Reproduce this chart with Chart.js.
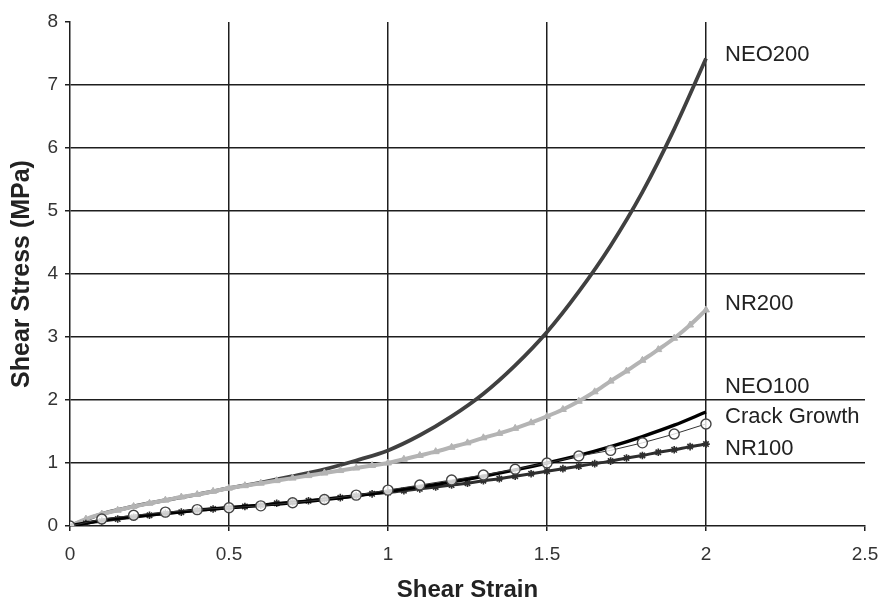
<!DOCTYPE html>
<html>
<head>
<meta charset="utf-8">
<script src="https://cdn.jsdelivr.net/npm/chart.js@4.4.1/dist/chart.umd.min.js"></script>
<style>
  html, body { margin: 0; padding: 0; background: #fff; }
  #wrap { width: 881px; height: 602px; }
</style>
</head>
<body>
<div id="wrap"><canvas id="chart" width="881" height="602"></canvas></div>
<script>
'use strict';

// strain values (x) for the dense-marker series, step 0.05
const strainFine = [0, 0.05, 0.1, 0.15, 0.2, 0.25, 0.3, 0.35, 0.4, 0.45, 0.5, 0.55, 0.6, 0.65, 0.7, 0.75, 0.8, 0.85, 0.9, 0.95,
    1.0, 1.05, 1.1, 1.15, 1.2, 1.25, 1.3, 1.35, 1.4, 1.45, 1.5, 1.55, 1.6, 1.65, 1.7, 1.75, 1.8, 1.85, 1.9, 1.95, 2.0];
// strain values (x) for the other series, step 0.1
const strainCoarse = [0, 0.1, 0.2, 0.3, 0.4, 0.5, 0.6, 0.7, 0.8, 0.9, 1.0, 1.1, 1.2, 1.3, 1.4, 1.5, 1.6, 1.7, 1.8, 1.9, 2.0];

const nr200 = [0, 0.11, 0.19, 0.25, 0.31, 0.36, 0.41, 0.46, 0.5, 0.55, 0.6, 0.64, 0.68, 0.72, 0.76, 0.8, 0.84, 0.88, 0.92, 0.96,
    1.0, 1.06, 1.12, 1.18, 1.25, 1.32, 1.4, 1.47, 1.55, 1.64, 1.74, 1.85, 1.98, 2.13, 2.3, 2.46, 2.63, 2.8, 2.98, 3.19, 3.43];
const nr100 = [0, 0.04, 0.08, 0.11, 0.14, 0.17, 0.2, 0.22, 0.25, 0.27, 0.29, 0.31, 0.33, 0.36, 0.38, 0.4, 0.43, 0.45, 0.48, 0.51,
    0.53, 0.56, 0.59, 0.62, 0.65, 0.68, 0.72, 0.75, 0.79, 0.83, 0.87, 0.91, 0.95, 0.99, 1.03, 1.08, 1.12, 1.17, 1.21, 1.26, 1.3];
const neo200 = [0, 0.19, 0.31, 0.41, 0.5, 0.6, 0.69, 0.79, 0.9, 1.04, 1.2, 1.44, 1.74, 2.1, 2.55, 3.08, 3.72, 4.45, 5.3, 6.3, 7.42];
const neo100 = [0, 0.09, 0.15, 0.2, 0.25, 0.29, 0.33, 0.37, 0.42, 0.48, 0.55, 0.62, 0.7, 0.79, 0.89, 1.0, 1.12, 1.26, 1.42, 1.6, 1.81];
const crackGrowth = [0, 0.11, 0.17, 0.22, 0.26, 0.29, 0.32, 0.37, 0.42, 0.49, 0.57, 0.65, 0.73, 0.81, 0.9, 1.0, 1.11, 1.2, 1.32, 1.46, 1.62];

const xTicks = [0, 0.5, 1, 1.5, 2, 2.5];
const yTicks = [0, 1, 2, 3, 4, 5, 6, 7, 8];

// series name labels at the right end of the curves (x in strain, y in MPa)
const labelNames = ['NEO200', 'NR200', 'NEO100', 'Crack Growth', 'NR100'];
const labelY = [7.47, 3.53, 2.2, 1.73, 1.23];
const labelX = 2.06;

const FONT = "'Liberation Sans', Arial, sans-serif";
const GRID = '#1e1e1e';

const toPoints = (xs, ys) => ys.map((y, i) => ({ x: xs[i], y }));

const seriesLabels = {
    id: 'seriesLabels',
    afterDatasetsDraw(chart) {
        const { ctx, scales: { x, y } } = chart;
        ctx.save();
        ctx.font = `22px ${FONT}`;
        ctx.fillStyle = '#222';
        ctx.textAlign = 'left';
        ctx.textBaseline = 'middle';
        labelNames.forEach((name, i) => {
            ctx.fillText(name, x.getPixelForValue(labelX), y.getPixelForValue(labelY[i]));
        });
        ctx.restore();
    }
};

new Chart(document.getElementById('chart'), {
    type: 'line',
    data: {
        datasets: [
            {
                label: 'Crack Growth',
                data: toPoints(strainCoarse, crackGrowth),
                borderColor: '#333',
                borderWidth: 1,
                pointStyle: 'circle',
                pointRadius: 5,
                pointBorderWidth: 1.4,
                pointBorderColor: '#444',
                pointBackgroundColor: 'rgba(255,255,255,0.8)',
                tension: 0,
                order: 1
            },
            {
                label: 'NEO100',
                data: toPoints(strainCoarse, neo100),
                borderColor: '#000',
                borderWidth: 3.4,
                pointRadius: 0,
                cubicInterpolationMode: 'monotone',
                order: 2
            },
            {
                label: 'NR100',
                data: toPoints(strainFine, nr100),
                borderColor: '#2e2e2e',
                borderWidth: 3,
                pointStyle: 'star',
                pointRadius: 3.8,
                pointBorderWidth: 1.6,
                pointBorderColor: '#2e2e2e',
                pointBackgroundColor: '#2e2e2e',
                cubicInterpolationMode: 'monotone',
                order: 3
            },
            {
                label: 'NR200',
                data: toPoints(strainFine, nr200),
                borderColor: '#b4b4b4',
                borderWidth: 4,
                pointStyle: 'triangle',
                pointRadius: 4,
                pointBorderWidth: 1,
                pointBorderColor: '#b4b4b4',
                pointBackgroundColor: '#b4b4b4',
                cubicInterpolationMode: 'monotone',
                order: 4
            },
            {
                label: 'NEO200',
                data: toPoints(strainCoarse, neo200),
                borderColor: '#404040',
                borderWidth: 3.8,
                pointRadius: 0,
                cubicInterpolationMode: 'monotone',
                order: 5
            }
        ]
    },
    options: {
        responsive: false,
        animation: false,
        layout: { padding: { top: 22, right: 16, left: 0, bottom: 0 } },
        plugins: {
            legend: { display: false },
            tooltip: { enabled: false }
        },
        scales: {
            x: {
                type: 'linear',
                min: 0,
                max: 2.5,
                afterBuildTicks: (axis) => { axis.ticks = xTicks.map(v => ({ value: v })); },
                afterFit: (axis) => {
                    axis.height = 76;
                    // the layout padding already leaves room for the last label
                    axis.paddingRight = 0;
                    axis.paddingLeft = 0;
                },
                grid: {
                    color: (c) => (c.tick && (c.tick.value === 0 || c.tick.value === 2.5)) ? 'rgba(0,0,0,0)' : GRID,
                    tickColor: GRID,
                    lineWidth: 1.5,
                    tickLength: 5
                },
                border: { display: true, color: GRID, width: 1.5 },
                ticks: {
                    color: '#333',
                    font: { family: FONT, size: 19 },
                    padding: 12,
                    maxRotation: 0,
                    callback: (v) => String(v)
                },
                title: {
                    display: true,
                    text: 'Shear Strain',
                    color: '#222',
                    font: { family: FONT, size: 24, weight: 'bold', lineHeight: 1.0 },
                    padding: { top: 0, bottom: 0 }
                }
            },
            y: {
                type: 'linear',
                min: 0,
                max: 8,
                afterBuildTicks: (axis) => { axis.ticks = yTicks.map(v => ({ value: v })); },
                afterFit: (axis) => { axis.width = 70; },
                grid: {
                    color: (c) => (c.tick && (c.tick.value === 0 || c.tick.value === 8)) ? 'rgba(0,0,0,0)' : GRID,
                    tickColor: GRID,
                    lineWidth: 1.5,
                    tickLength: 5
                },
                border: { display: true, color: GRID, width: 1.5 },
                ticks: {
                    color: '#333',
                    font: { family: FONT, size: 19 },
                    padding: 7,
                    callback: (v) => String(v)
                },
                title: {
                    display: true,
                    text: 'Shear Stress (MPa)',
                    color: '#222',
                    font: { family: FONT, size: 25, weight: 'bold' },
                    padding: { top: 7, bottom: 0 }
                }
            }
        }
    },
    plugins: [seriesLabels]
});
</script>
</body>
</html>
